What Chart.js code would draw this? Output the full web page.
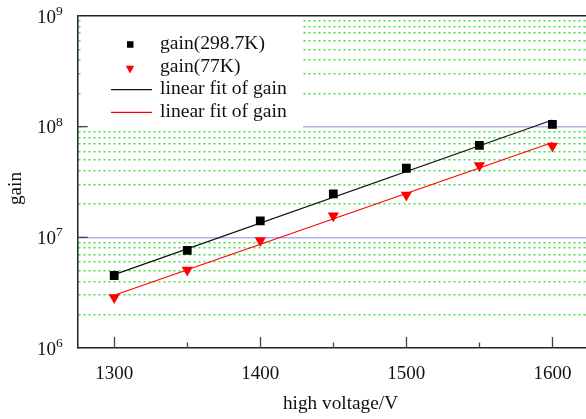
<!DOCTYPE html>
<html><head><meta charset="utf-8">
<script src="https://cdn.jsdelivr.net/npm/chart.js@4"></script>
<style>html,body{margin:0;padding:0;background:#fff;}#wrap{width:586px;height:419px;}</style>
</head><body><div id="wrap"><canvas id="c" width="586" height="419"></canvas></div>
<script>
const voltages = [1300, 1350, 1400, 1450, 1500, 1550, 1600];
const gainRoom = [4.52e6, 7.64e6, 1.41e7, 2.47e7, 4.21e7, 6.79e7, 1.05e8];
const gain77 = [2.86e6, 5.07e6, 9.35e6, 1.57e7, 2.41e7, 4.46e7, 6.69e7];
const fitVoltages = [1300, 1600];
const fitRoom = [4.6e6, 1.15e8];
const fit77 = [3.0e6, 7.2e7];
const seriesLabels = ['gain(298.7K)', 'gain(77K)', 'linear fit of gain', 'linear fit of gain'];
const xMajorTicks = [1300, 1400, 1500, 1600];
const xMinorTicks = [1350, 1450, 1550];
const xTickLabels = ['1300', '1400', '1500', '1600'];
const yDecades = [1e6, 1e7, 1e8, 1e9];
const yMantissas = [2, 3, 4, 5, 6, 7, 8, 9];
const yExponentLabels = ['6', '7', '8', '9'];
const xTitle = 'high voltage/V';
const yTitle = 'gain';

const FONT = '"Liberation Serif", "Times New Roman", serif';
const yGridValues = [];
yDecades.forEach((d, i) => {
  yGridValues.push(d);
  if (i < yDecades.length - 1) yMantissas.forEach(m => yGridValues.push(m * d));
});
function isMajor(v) { const l = Math.log10(v); return Math.abs(l - Math.round(l)) < 1e-9; }

const deco = {
  id: 'deco',
  beforeDatasetsDraw(chart) {
    const ctx = chart.ctx;
    ctx.save();
    ctx.fillStyle = '#ffffff';
    ctx.fillRect(82, 17.5, 221, 111.5);
    ctx.restore();
  },
  afterDatasetsDraw(chart) {
    const ctx = chart.ctx;
    const xs = chart.scales.x, ys = chart.scales.y;
    const a = chart.chartArea;
    ctx.save();
    ctx.strokeStyle = '#444';
    ctx.lineWidth = 1.3;
    xMajorTicks.forEach(v => {
      const p = Math.round(xs.getPixelForValue(v)) + 0.5;
      ctx.beginPath(); ctx.moveTo(p, a.bottom); ctx.lineTo(p, a.bottom - 11); ctx.stroke();
    });
    xMinorTicks.forEach(v => {
      const p = Math.round(xs.getPixelForValue(v)) + 0.5;
      ctx.beginPath(); ctx.moveTo(p, a.bottom); ctx.lineTo(p, a.bottom - 5.5); ctx.stroke();
    });
    yDecades.slice(1, -1).forEach(v => {
      const p = ys.getPixelForValue(v);
      ctx.beginPath(); ctx.moveTo(a.left, p); ctx.lineTo(a.left + 10, p); ctx.stroke();
    });
    ctx.fillStyle = '#111';
    ctx.font = '19px ' + FONT;
    ctx.textAlign = 'center';
    ctx.textBaseline = 'alphabetic';
    xMajorTicks.forEach((v, i) => {
      ctx.fillText(xTickLabels[i], xs.getPixelForValue(v), 378.5);
    });
    yDecades.forEach((v, i) => {
      const p = ys.getPixelForValue(v);
      ctx.font = '19px ' + FONT;
      ctx.textAlign = 'right';
      ctx.fillText('10', 56, p + 6.5);
      ctx.font = '13.5px ' + FONT;
      ctx.textAlign = 'left';
      ctx.fillText(yExponentLabels[i], 56, p - 1);
    });
    ctx.font = '19.3px ' + FONT;
    ctx.textAlign = 'center';
    ctx.fillText(xTitle, 340.5, 409);
    ctx.save();
    ctx.translate(20.5, 188.5);
    ctx.rotate(-Math.PI / 2);
    ctx.fillText(yTitle, 0, 0);
    ctx.restore();
    const rowY = [44.5, 67.1, 89.7, 112.3];
    chart.data.datasets.forEach((ds, i) => {
      const y = rowY[i];
      if (ds.showLine) {
        ctx.strokeStyle = ds.borderColor;
        ctx.lineWidth = 1.2;
        ctx.beginPath(); ctx.moveTo(111, y); ctx.lineTo(152, y); ctx.stroke();
      } else if (ds.pointStyle === 'rect') {
        ctx.fillStyle = ds.pointBackgroundColor;
        ctx.fillRect(127, y - 3.25, 6.5, 6.5);
      } else {
        ctx.fillStyle = ds.pointBackgroundColor;
        ctx.beginPath();
        ctx.moveTo(125.8, y - 1.3); ctx.lineTo(134.2, y - 1.3); ctx.lineTo(130, y + 6.5);
        ctx.closePath(); ctx.fill();
      }
      ctx.fillStyle = '#111';
      ctx.font = '19.6px ' + FONT;
      ctx.textAlign = 'left';
      ctx.fillText(ds.label, 160, y + 4.5);
    });
    ctx.restore();
  }
};

new Chart(document.getElementById('c'), {
  type: 'scatter',
  data: {
    datasets: [
      { label: seriesLabels[0], data: voltages.map((v, i) => ({ x: v, y: gainRoom[i] })),
        pointStyle: 'rect', pointRadius: 6.2, pointBackgroundColor: '#000', pointBorderColor: '#000', pointBorderWidth: 0, showLine: false },
      { label: seriesLabels[1], data: voltages.map((v, i) => ({ x: v, y: gain77[i] })),
        pointStyle: 'triangle', pointRotation: 180, pointRadius: 6.5, pointBackgroundColor: '#ff0000', pointBorderColor: '#ff0000', pointBorderWidth: 0, showLine: false },
      { label: seriesLabels[2], data: fitVoltages.map((v, i) => ({ x: v, y: fitRoom[i] })),
        showLine: true, borderColor: '#111', borderWidth: 1.2, pointRadius: 0, fill: false },
      { label: seriesLabels[3], data: fitVoltages.map((v, i) => ({ x: v, y: fit77[i] })),
        showLine: true, borderColor: '#ff0000', borderWidth: 1.2, pointRadius: 0, fill: false }
    ]
  },
  options: {
    responsive: false, animation: false, devicePixelRatio: 1,
    layout: { autoPadding: false, padding: { top: 16, right: 0, left: 0, bottom: 0 } },
    plugins: { legend: { display: false }, tooltip: { enabled: false } },
    scales: {
      x: {
        type: 'linear', min: 1275, max: 1623,
        grid: { display: false },
        ticks: { display: false },
        border: { display: true, color: '#222', width: 1.5 },
        afterFit(s) { s.height = 71; }
      },
      y: {
        type: 'logarithmic', min: 1e6, max: 1e9,
        afterBuildTicks(s) { s.ticks = yGridValues.map(v => ({ value: v })); },
        ticks: { display: false },
        grid: {
          drawTicks: false,
          color(c) {
            if (!c.tick) return '#222';
            const v = c.tick.value;
            if (v >= 1e9 * 0.999) return '#222';
            if (v <= 1e6 * 1.001) return 'rgba(0,0,0,0)';
            return isMajor(v) ? 'rgb(176,176,236)' : 'rgb(60,225,60)';
          },
          lineWidth(c) {
            if (!c.tick) return 1.5;
            return isMajor(c.tick.value) ? 1.5 : 1.4;
          }
        },
        border: {
          display: true, color: '#222', width: 1.5,
          dash(c) { return (c.tick && !isMajor(c.tick.value)) ? [2, 3] : []; }
        },
        afterFit(s) { s.width = 77.7; }
      }
    }
  },
  plugins: [deco]
});
</script>
</body></html>
